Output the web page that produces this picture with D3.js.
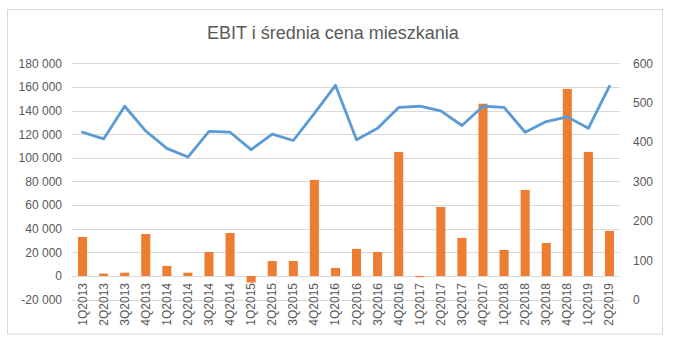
<!DOCTYPE html>
<html>
<head>
<meta charset="utf-8">
<script src="https://cdn.jsdelivr.net/npm/d3@7"></script>
<style>
  html, body { margin: 0; padding: 0; background: #fff; }
  svg { display: block; font-family: "Liberation Sans", Arial, sans-serif; }
</style>
</head>
<body>
<svg id="chart" width="697" height="355"></svg>
<script>
const categories = ["1Q2013","2Q2013","3Q2013","4Q2013","1Q2014","2Q2014","3Q2014","4Q2014",
  "1Q2015","2Q2015","3Q2015","4Q2015","1Q2016","2Q2016","3Q2016","4Q2016",
  "1Q2017","2Q2017","3Q2017","4Q2017","1Q2018","2Q2018","3Q2018","4Q2018","1Q2019","2Q2019"];
const ebit = [33000, 2000, 2800, 35500, 8500, 2800, 20300, 36400,
  -5600, 12700, 12700, 81300, 6800, 22900, 20300, 105000,
  -1000, 58400, 32200, 145800, 22000, 72800, 27900, 158300, 105000, 38100];
const price = [425, 408, 491, 428, 384, 362, 427, 425,
  381, 420, 404, 473, 544, 406, 435, 488,
  491, 479, 442, 491, 488, 425, 452, 464, 435, 542];
const leftTicks = [-20000, 0, 20000, 40000, 60000, 80000, 100000, 120000, 140000, 160000, 180000];
const rightTicks = [0, 100, 200, 300, 400, 500, 600];
const title = "EBIT i średnia cena mieszkania";

const svg = d3.select("#chart");
const plot = { left: 72, right: 620, top: 63.3, bottom: 299.6 };

// chart border
svg.append("rect").attr("x", 7.5).attr("y", 9.5).attr("width", 655).attr("height", 324.5)
  .attr("fill", "#fff").attr("stroke", "#d9d9d9").attr("stroke-width", 1);

svg.append("text").attr("x", 333).attr("y", 39).attr("text-anchor", "middle")
  .attr("font-size", 18).attr("fill", "#595959").text(title);

const x = d3.scaleBand().domain(categories).range([plot.left, plot.right]).paddingInner(0.57).paddingOuter(0.285);
const yL = d3.scaleLinear().domain([-20000, 180000]).range([plot.bottom, plot.top]);
const yR = d3.scaleLinear().domain([0, 600]).range([plot.bottom, plot.top]);

// gridlines
svg.append("g").selectAll("line").data(leftTicks).join("line")
  .attr("x1", plot.left).attr("x2", plot.right)
  .attr("y1", d => Math.round(yL(d)) + 0.5).attr("y2", d => Math.round(yL(d)) + 0.5)
  .attr("stroke", "#d9d9d9").attr("stroke-width", 1);

const fmt = d => d3.format(",")(d).replace(/,/g, " ").replace("−", "-");

// left axis
const axL = d3.axisLeft(yL).tickValues(leftTicks).tickFormat(fmt).tickSize(0).tickPadding(0);
const gL = svg.append("g").attr("transform", `translate(62,0)`).call(axL);
gL.select(".domain").remove();
gL.selectAll("text").attr("font-size", 12).attr("fill", "#595959").attr("font-family", "Liberation Sans, Arial, sans-serif");

// right axis
const axR = d3.axisRight(yR).tickValues(rightTicks).tickSize(0).tickPadding(0);
const gR = svg.append("g").attr("transform", `translate(633,0)`).call(axR);
gR.select(".domain").remove();
gR.selectAll("text").attr("font-size", 12).attr("fill", "#595959").attr("font-family", "Liberation Sans, Arial, sans-serif");

// bars
svg.append("g").selectAll("rect").data(categories).join("rect")
  .attr("x", d => x(d))
  .attr("width", x.bandwidth())
  .attr("y", (d, i) => Math.min(yL(ebit[i]), yL(0)))
  .attr("height", (d, i) => Math.abs(yL(ebit[i]) - yL(0)))
  .attr("fill", "#ED7D31");

// bottom category axis at 0
const axB = d3.axisBottom(x).tickSize(0).tickPadding(0);
const gB = svg.append("g").attr("transform", `translate(0,${yL(0)})`).call(axB);
gB.select(".domain").remove();
gB.selectAll("text")
  .attr("font-size", 12).attr("fill", "#595959").attr("font-family", "Liberation Sans, Arial, sans-serif")
  .attr("text-anchor", "end").attr("dy", null)
  .attr("transform", "translate(4,7) rotate(-90)")
  .attr("x", 0).attr("y", 0);

// line
const line = d3.line().x((d, i) => x(categories[i]) + x.bandwidth() / 2).y(d => yR(d));
svg.append("path").datum(price).attr("d", line)
  .attr("fill", "none").attr("stroke", "#5B9BD5").attr("stroke-width", 2.8)
  .attr("stroke-linejoin", "round").attr("stroke-linecap", "round");
</script>
</body>
</html>
